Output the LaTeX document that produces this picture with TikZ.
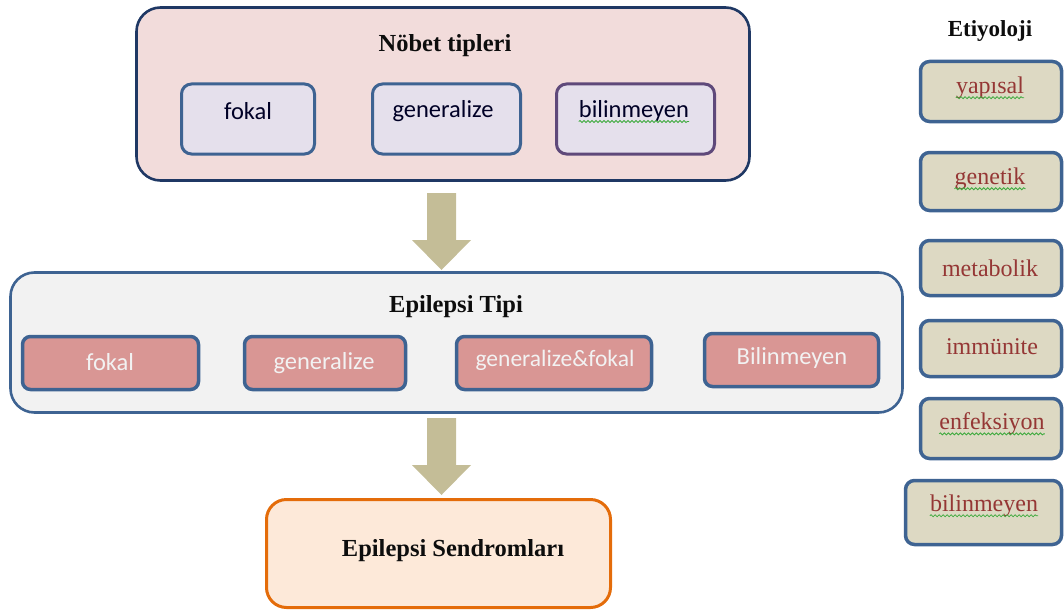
\documentclass[tikz,border=0pt]{standalone}
\usepackage{fontspec}
\setmainfont{Liberation Serif}
\newfontfamily\calfont{Carlito}
\usetikzlibrary{decorations.pathmorphing}
\definecolor{navy}{HTML}{1F3864}
\definecolor{steel}{HTML}{3E6392}
\definecolor{purp}{HTML}{5F497A}
\definecolor{pinkfill}{HTML}{F2DCDB}
\definecolor{lavfill}{HTML}{E5E0EC}
\definecolor{greyfill}{HTML}{F2F2F2}
\definecolor{rose}{HTML}{D99694}
\definecolor{arrowc}{HTML}{C4BD97}
\definecolor{orng}{HTML}{E46C0A}
\definecolor{orfill}{HTML}{FDE9D9}
\definecolor{etyfill}{HTML}{DDD9C3}
\definecolor{etytxt}{HTML}{953735}
\definecolor{titletxt}{HTML}{0D0D0D}
\definecolor{spell}{HTML}{3DAA3D}
\tikzset{
  outerbox/.style={draw, rounded corners=24pt, line width=2.6pt, inner sep=0pt},
  topinner/.style={draw=steel, fill=lavfill, rounded corners=10pt, line width=3pt, inner sep=0pt},
  rosebox/.style={draw=steel, fill=rose, rounded corners=8pt, line width=3.5pt, inner sep=0pt},
  etybox/.style={draw=steel, fill=etyfill, rounded corners=9pt, line width=3.5pt, inner sep=0pt},
  titletext/.style={font=\bfseries\fontsize{24.5}{28}\selectfont, text=titletxt, inner sep=0pt},
  caltext/.style={font=\calfont\fontsize{24.5}{28}\selectfont, text=black!85!blue, inner sep=0pt},
  whitetext/.style={font=\calfont\fontsize{24.5}{28}\selectfont, text=greyfill, inner sep=0pt},
  etytext/.style={font=\fontsize{24}{28}\selectfont, text=etytxt, inner sep=0pt},
  squiggle/.style={draw=spell, line width=0.8pt, decorate, decoration={snake, amplitude=1pt, segment length=4pt}},
  blockarrow/.style={fill=arrowc, draw=none}
}
\begin{document}
\begin{tikzpicture}[x=1pt, y=-1pt]
\useasboundingbox (0,0) rectangle (1064,615);

% Top box
\node[outerbox, draw=navy, fill=pinkfill, minimum width=613, minimum height=173] (nobet) at (443,94) {};
\node[titletext] (nobetT) at (445,46) {Nöbet tipleri};
\node[topinner, minimum width=133, minimum height=70] (nf) at (248,119) {};
\node[topinner, minimum width=148, minimum height=70] (ng) at (446.5,119) {};
\node[topinner, draw=purp, minimum width=158, minimum height=70] (nb) at (635.5,119) {};
\node[caltext] (nfT) at (248,111) {fokal};
\node[caltext] (ngT) at (443,111) {generalize};
\node[caltext] (nbT) at (634,111) {bilinmeyen};
\draw[squiggle] ([yshift=-4pt]nbT.base west) -- ([yshift=-4pt]nbT.base east);

% Arrow 1
\fill[blockarrow] (427,193) -- (456,193) -- (456,240) -- (471,240) -- (441.5,270) -- (412,240) -- (427,240) -- cycle;

% Epilepsi Tipi box
\node[outerbox, draw=steel, fill=greyfill, minimum width=892, minimum height=140] (tipi) at (456.5,342.5) {};
\node[titletext] (tipiT) at (456,307) {Epilepsi Tipi};
\node[rosebox, minimum width=176, minimum height=53] (tf) at (110.5,363) {};
\node[rosebox, minimum width=161, minimum height=53] (tg) at (325,363) {};
\node[rosebox, minimum width=195, minimum height=53] (tgf) at (554,363) {};
\node[rosebox, minimum width=174, minimum height=53] (tb) at (791.5,360) {};
\node[whitetext] (tfT) at (110,362) {fokal};
\node[whitetext] (tgT) at (324,363) {generalize};
\node[whitetext, font=\calfont\fontsize{23.5}{28}\selectfont] (tgfT) at (555,360) {generalize\&fokal};
\node[whitetext] (tbT) at (792,358) {Bilinmeyen};

% Arrow 2
\fill[blockarrow] (427,418) -- (456,418) -- (456,465) -- (471,465) -- (441.5,495) -- (412,465) -- (427,465) -- cycle;

% Sendromlar box
\node[outerbox, draw=orng, fill=orfill, rounded corners=20pt, line width=3pt, minimum width=344, minimum height=108] (send) at (438.5,553.5) {};
\node[titletext] (sendT) at (453,551) {Epilepsi Sendromları};

% Etiyoloji
\node[titletext, font=\bfseries\fontsize{23}{26}\selectfont] (etyT) at (990,31) {Etiyoloji};
\node[etybox, minimum width=141, minimum height=60] (e1) at (991,91.5) {};
\node[etybox, minimum width=141, minimum height=58] (e2) at (991,181.5) {};
\node[etybox, minimum width=141, minimum height=55] (e3) at (991,268) {};
\node[etybox, minimum width=141, minimum height=56] (e4) at (991,348.5) {};
\node[etybox, minimum width=141, minimum height=60] (e5) at (991,428.5) {};
\node[etybox, minimum width=156, minimum height=64] (e6) at (983.5,512.5) {};
\node[etytext] (e1T) at (990,88) {yapısal};
\node[etytext] (e2T) at (990,179) {genetik};
\node[etytext] (e3T) at (990,268) {metabolik};
\node[etytext] (e4T) at (992,347) {immünite};
\node[etytext] (e5T) at (992,424) {enfeksiyon};
\node[etytext] (e6T) at (984,506) {bilinmeyen};
\foreach \t in {e1T,e2T,e5T,e6T}
  \draw[squiggle] ([yshift=-4pt]\t.base west) -- ([yshift=-4pt]\t.base east);
\end{tikzpicture}
\end{document}
